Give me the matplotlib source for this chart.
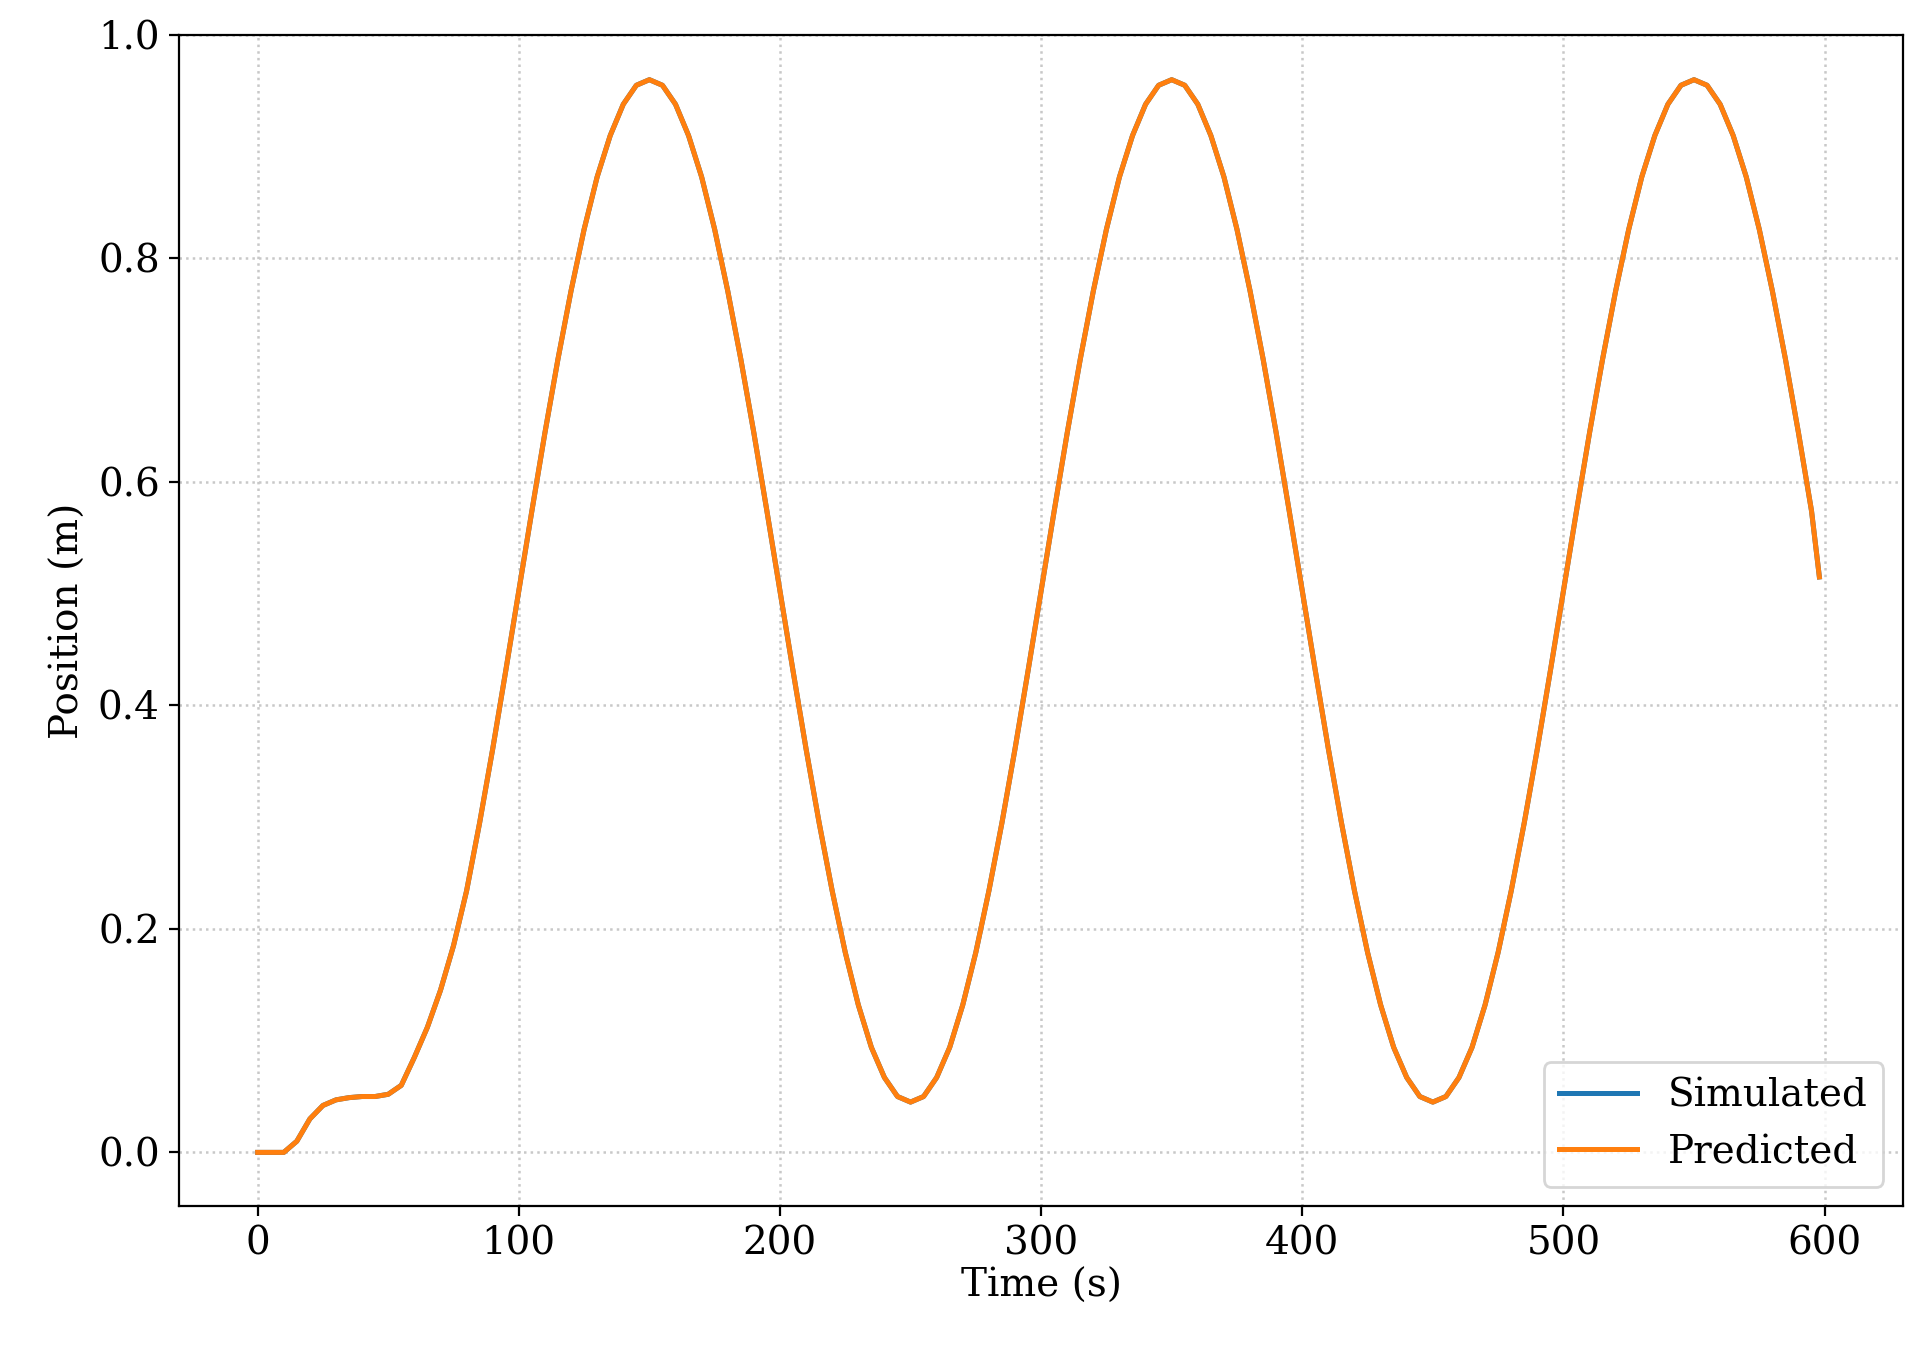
import numpy as np
import matplotlib.pyplot as plt
import matplotlib as mpl

mpl.rcParams['font.family'] = 'DejaVu Serif'
mpl.rcParams['font.size'] = 14

# position, one value every 5 s
start = [0.0, 0.0, 0.0, 0.01, 0.03, 0.042, 0.047, 0.049, 0.05, 0.05, 0.052, 0.06,
         0.085, 0.112, 0.145, 0.185, 0.234, 0.295, 0.361, 0.431]
down = [0.5025, 0.574, 0.644, 0.710, 0.771, 0.826, 0.873, 0.910, 0.938, 0.955,
        0.960, 0.955, 0.938, 0.910, 0.873, 0.826, 0.771, 0.710, 0.644, 0.574,
        0.5025, 0.431, 0.361, 0.295, 0.234, 0.179, 0.132, 0.094, 0.067, 0.050,
        0.045, 0.050, 0.067, 0.094, 0.132, 0.179, 0.234, 0.295, 0.361, 0.431]
tail = [0.5025, 0.574, 0.644, 0.710, 0.771, 0.826, 0.873, 0.910, 0.938, 0.955,
        0.960, 0.955, 0.938, 0.910, 0.873, 0.826, 0.771, 0.710, 0.644, 0.574]
pos = np.array(start + down + down + tail + [0.515])
t = np.append(np.arange(len(pos) - 1) * 5.0, 598.0)

fig = plt.figure(figsize=(9.64, 6.73), dpi=200)
ax = fig.add_axes([0.093, 0.104, 0.894, 0.87])
ax.plot(t, pos, color='#1f77b4', lw=1.8, label='Simulated')
ax.plot(t, pos, color='#ff7f0e', lw=1.8, label='Predicted', solid_joinstyle='round')
ax.set_xlim(-30, 630)
ax.set_ylim(-0.048, 1.0)
ax.set_xticks(range(0, 601, 100))
ax.set_yticks(np.arange(0, 1.01, 0.2))
ax.grid(True, ls=':', color='#c8c8c8', lw=0.9)
ax.set_xlabel('Time (s)', labelpad=2)
ax.set_ylabel('Position (m)')
ax.legend(loc='lower right')
fig.savefig('out.png')
